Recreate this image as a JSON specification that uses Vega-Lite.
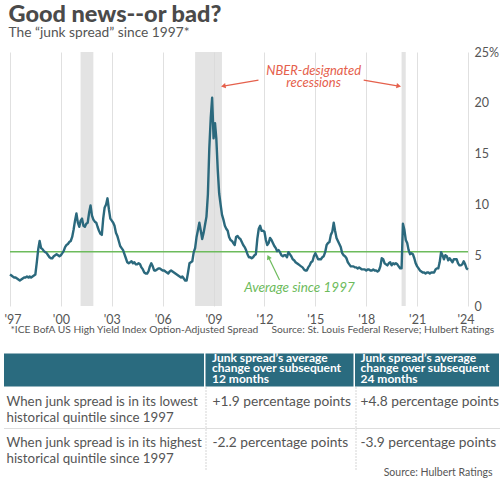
{
  "$schema": "https://vega.github.io/schema/vega-lite/v6.json",
  "background": "white",
  "padding": {"left": 3, "top": 2, "right": 3, "bottom": 3},
  "config": {
    "font": "Lato",
    "view": {"stroke": null},
    "axis": {"labelFont": "Lato", "titleFont": "Lato"}
  },
  "title": {
    "text": "Good news--or bad?",
    "subtitle": "The “junk spread” since 1997*",
    "anchor": "start",
    "dx": 5,
    "fontSize": 23.5,
    "fontWeight": 900,
    "color": "#4a4a4a",
    "subtitleFontSize": 13.75,
    "subtitleColor": "#555555",
    "subtitlePadding": 0,
    "offset": 6
  },
  "datasets": {
    "recessions": [
      {"start": "2001-03-01", "end": "2001-12-01"},
      {"start": "2007-12-01", "end": "2009-07-01"},
      {"start": "2020-02-01", "end": "2020-05-01"}
    ],
    "spread": [
      {"d": "1997-01", "v": 3.1}, {"d": "1997-02", "v": 3.0}, {"d": "1997-03", "v": 2.9}, {"d": "1997-04", "v": 2.8}, {"d": "1997-05", "v": 2.8}, {"d": "1997-06", "v": 2.7}, {"d": "1997-07", "v": 2.6}, {"d": "1997-08", "v": 2.5}, {"d": "1997-09", "v": 2.6}, {"d": "1997-10", "v": 2.7}, {"d": "1997-11", "v": 2.8}, {"d": "1997-12", "v": 2.8},
      {"d": "1998-01", "v": 2.9}, {"d": "1998-02", "v": 2.8}, {"d": "1998-03", "v": 2.9}, {"d": "1998-04", "v": 2.8}, {"d": "1998-05", "v": 2.9}, {"d": "1998-06", "v": 3.0}, {"d": "1998-07", "v": 3.1}, {"d": "1998-08", "v": 4.3}, {"d": "1998-09", "v": 5.6}, {"d": "1998-10", "v": 6.4}, {"d": "1998-11", "v": 5.7}, {"d": "1998-12", "v": 5.6},
      {"d": "1999-01", "v": 5.4}, {"d": "1999-02", "v": 5.3}, {"d": "1999-03", "v": 5.2}, {"d": "1999-04", "v": 5.0}, {"d": "1999-05", "v": 4.8}, {"d": "1999-06", "v": 4.7}, {"d": "1999-07", "v": 4.7}, {"d": "1999-08", "v": 4.9}, {"d": "1999-09", "v": 5.0}, {"d": "1999-10", "v": 5.1}, {"d": "1999-11", "v": 5.0}, {"d": "1999-12", "v": 4.9},
      {"d": "2000-01", "v": 5.0}, {"d": "2000-02", "v": 5.2}, {"d": "2000-03", "v": 5.4}, {"d": "2000-04", "v": 5.8}, {"d": "2000-05", "v": 6.0}, {"d": "2000-06", "v": 6.1}, {"d": "2000-07", "v": 6.3}, {"d": "2000-08", "v": 6.4}, {"d": "2000-09", "v": 6.8}, {"d": "2000-10", "v": 7.5}, {"d": "2000-11", "v": 8.4}, {"d": "2000-12", "v": 9.1},
      {"d": "2001-01", "v": 8.2}, {"d": "2001-02", "v": 7.8}, {"d": "2001-03", "v": 8.4}, {"d": "2001-04", "v": 8.6}, {"d": "2001-05", "v": 7.9}, {"d": "2001-06", "v": 7.8}, {"d": "2001-07", "v": 8.1}, {"d": "2001-08", "v": 8.2}, {"d": "2001-09", "v": 9.2}, {"d": "2001-10", "v": 9.9}, {"d": "2001-11", "v": 8.9}, {"d": "2001-12", "v": 8.5},
      {"d": "2002-01", "v": 8.3}, {"d": "2002-02", "v": 8.2}, {"d": "2002-03", "v": 7.8}, {"d": "2002-04", "v": 7.4}, {"d": "2002-05", "v": 7.1}, {"d": "2002-06", "v": 7.0}, {"d": "2002-07", "v": 8.6}, {"d": "2002-08", "v": 9.7}, {"d": "2002-09", "v": 10.0}, {"d": "2002-10", "v": 10.6}, {"d": "2002-11", "v": 9.5}, {"d": "2002-12", "v": 8.6},
      {"d": "2003-01", "v": 8.4}, {"d": "2003-02", "v": 8.2}, {"d": "2003-03", "v": 7.9}, {"d": "2003-04", "v": 7.2}, {"d": "2003-05", "v": 6.9}, {"d": "2003-06", "v": 6.4}, {"d": "2003-07", "v": 5.9}, {"d": "2003-08", "v": 5.7}, {"d": "2003-09", "v": 5.5}, {"d": "2003-10", "v": 5.1}, {"d": "2003-11", "v": 4.7}, {"d": "2003-12", "v": 4.3},
      {"d": "2004-01", "v": 4.2}, {"d": "2004-02", "v": 4.3}, {"d": "2004-03", "v": 4.4}, {"d": "2004-04", "v": 4.2}, {"d": "2004-05", "v": 4.3}, {"d": "2004-06", "v": 4.1}, {"d": "2004-07", "v": 4.1}, {"d": "2004-08", "v": 4.2}, {"d": "2004-09", "v": 4.1}, {"d": "2004-10", "v": 3.8}, {"d": "2004-11", "v": 3.6}, {"d": "2004-12", "v": 3.3},
      {"d": "2005-01", "v": 3.2}, {"d": "2005-02", "v": 3.2}, {"d": "2005-03", "v": 3.4}, {"d": "2005-04", "v": 3.9}, {"d": "2005-05", "v": 4.2}, {"d": "2005-06", "v": 3.9}, {"d": "2005-07", "v": 3.5}, {"d": "2005-08", "v": 3.5}, {"d": "2005-09", "v": 3.6}, {"d": "2005-10", "v": 3.7}, {"d": "2005-11", "v": 3.7}, {"d": "2005-12", "v": 3.6},
      {"d": "2006-01", "v": 3.5}, {"d": "2006-02", "v": 3.5}, {"d": "2006-03", "v": 3.4}, {"d": "2006-04", "v": 3.3}, {"d": "2006-05", "v": 3.2}, {"d": "2006-06", "v": 3.4}, {"d": "2006-07", "v": 3.5}, {"d": "2006-08", "v": 3.4}, {"d": "2006-09", "v": 3.3}, {"d": "2006-10", "v": 3.2}, {"d": "2006-11", "v": 3.1}, {"d": "2006-12", "v": 3.0},
      {"d": "2007-01", "v": 2.9}, {"d": "2007-02", "v": 2.8}, {"d": "2007-03", "v": 2.9}, {"d": "2007-04", "v": 2.7}, {"d": "2007-05", "v": 2.5}, {"d": "2007-06", "v": 2.5}, {"d": "2007-07", "v": 3.3}, {"d": "2007-08", "v": 4.2}, {"d": "2007-09", "v": 4.3}, {"d": "2007-10", "v": 4.4}, {"d": "2007-11", "v": 5.3}, {"d": "2007-12", "v": 5.7},
      {"d": "2008-01", "v": 6.8}, {"d": "2008-02", "v": 7.5}, {"d": "2008-03", "v": 8.2}, {"d": "2008-04", "v": 7.4}, {"d": "2008-05", "v": 6.6}, {"d": "2008-06", "v": 7.2}, {"d": "2008-07", "v": 8.0}, {"d": "2008-08", "v": 8.8}, {"d": "2008-09", "v": 11.0}, {"d": "2008-10", "v": 15.5}, {"d": "2008-11", "v": 18.5}, {"d": "2008-12", "v": 20.5},
      {"d": "2009-01", "v": 16.5}, {"d": "2009-02", "v": 18.0}, {"d": "2009-03", "v": 16.5}, {"d": "2009-04", "v": 13.4}, {"d": "2009-05", "v": 11.1}, {"d": "2009-06", "v": 10.0}, {"d": "2009-07", "v": 9.0}, {"d": "2009-08", "v": 8.5}, {"d": "2009-09", "v": 7.9}, {"d": "2009-10", "v": 7.6}, {"d": "2009-11", "v": 7.4}, {"d": "2009-12", "v": 6.8},
      {"d": "2010-01", "v": 6.5}, {"d": "2010-02", "v": 6.4}, {"d": "2010-03", "v": 6.2}, {"d": "2010-04", "v": 6.0}, {"d": "2010-05", "v": 6.8}, {"d": "2010-06", "v": 6.9}, {"d": "2010-07", "v": 6.7}, {"d": "2010-08", "v": 6.6}, {"d": "2010-09", "v": 6.3}, {"d": "2010-10", "v": 6.0}, {"d": "2010-11", "v": 5.8}, {"d": "2010-12", "v": 5.5},
      {"d": "2011-01", "v": 5.1}, {"d": "2011-02", "v": 4.8}, {"d": "2011-03", "v": 4.8}, {"d": "2011-04", "v": 4.7}, {"d": "2011-05", "v": 4.8}, {"d": "2011-06", "v": 5.0}, {"d": "2011-07", "v": 5.1}, {"d": "2011-08", "v": 6.6}, {"d": "2011-09", "v": 7.6}, {"d": "2011-10", "v": 7.9}, {"d": "2011-11", "v": 7.4}, {"d": "2011-12", "v": 7.4},
      {"d": "2012-01", "v": 7.3}, {"d": "2012-02", "v": 6.5}, {"d": "2012-03", "v": 6.0}, {"d": "2012-04", "v": 6.2}, {"d": "2012-05", "v": 6.7}, {"d": "2012-06", "v": 6.5}, {"d": "2012-07", "v": 6.2}, {"d": "2012-08", "v": 5.9}, {"d": "2012-09", "v": 5.7}, {"d": "2012-10", "v": 5.4}, {"d": "2012-11", "v": 5.5}, {"d": "2012-12", "v": 5.3},
      {"d": "2013-01", "v": 5.0}, {"d": "2013-02", "v": 4.9}, {"d": "2013-03", "v": 5.0}, {"d": "2013-04", "v": 5.0}, {"d": "2013-05", "v": 4.8}, {"d": "2013-06", "v": 5.3}, {"d": "2013-07", "v": 5.1}, {"d": "2013-08", "v": 4.9}, {"d": "2013-09", "v": 4.6}, {"d": "2013-10", "v": 4.5}, {"d": "2013-11", "v": 4.3}, {"d": "2013-12", "v": 4.2},
      {"d": "2014-01", "v": 4.1}, {"d": "2014-02", "v": 4.0}, {"d": "2014-03", "v": 3.9}, {"d": "2014-04", "v": 3.8}, {"d": "2014-05", "v": 3.6}, {"d": "2014-06", "v": 3.5}, {"d": "2014-07", "v": 3.5}, {"d": "2014-08", "v": 3.8}, {"d": "2014-09", "v": 4.0}, {"d": "2014-10", "v": 4.3}, {"d": "2014-11", "v": 4.4}, {"d": "2014-12", "v": 4.9},
      {"d": "2015-01", "v": 5.2}, {"d": "2015-02", "v": 4.9}, {"d": "2015-03", "v": 4.6}, {"d": "2015-04", "v": 4.6}, {"d": "2015-05", "v": 4.6}, {"d": "2015-06", "v": 4.8}, {"d": "2015-07", "v": 4.9}, {"d": "2015-08", "v": 5.3}, {"d": "2015-09", "v": 6.0}, {"d": "2015-10", "v": 6.2}, {"d": "2015-11", "v": 6.3}, {"d": "2015-12", "v": 7.0},
      {"d": "2016-01", "v": 7.3}, {"d": "2016-02", "v": 8.2}, {"d": "2016-03", "v": 7.4}, {"d": "2016-04", "v": 6.7}, {"d": "2016-05", "v": 6.4}, {"d": "2016-06", "v": 6.1}, {"d": "2016-07", "v": 5.8}, {"d": "2016-08", "v": 5.2}, {"d": "2016-09", "v": 5.0}, {"d": "2016-10", "v": 4.9}, {"d": "2016-11", "v": 4.7}, {"d": "2016-12", "v": 4.3},
      {"d": "2017-01", "v": 4.1}, {"d": "2017-02", "v": 3.9}, {"d": "2017-03", "v": 3.9}, {"d": "2017-04", "v": 3.9}, {"d": "2017-05", "v": 3.8}, {"d": "2017-06", "v": 3.8}, {"d": "2017-07", "v": 3.7}, {"d": "2017-08", "v": 3.8}, {"d": "2017-09", "v": 3.7}, {"d": "2017-10", "v": 3.6}, {"d": "2017-11", "v": 3.6}, {"d": "2017-12", "v": 3.6},
      {"d": "2018-01", "v": 3.5}, {"d": "2018-02", "v": 3.6}, {"d": "2018-03", "v": 3.6}, {"d": "2018-04", "v": 3.5}, {"d": "2018-05", "v": 3.5}, {"d": "2018-06", "v": 3.6}, {"d": "2018-07", "v": 3.5}, {"d": "2018-08", "v": 3.5}, {"d": "2018-09", "v": 3.4}, {"d": "2018-10", "v": 3.5}, {"d": "2018-11", "v": 3.9}, {"d": "2018-12", "v": 4.7},
      {"d": "2019-01", "v": 4.6}, {"d": "2019-02", "v": 4.2}, {"d": "2019-03", "v": 4.1}, {"d": "2019-04", "v": 4.0}, {"d": "2019-05", "v": 4.2}, {"d": "2019-06", "v": 4.3}, {"d": "2019-07", "v": 4.0}, {"d": "2019-08", "v": 4.2}, {"d": "2019-09", "v": 4.1}, {"d": "2019-10", "v": 4.2}, {"d": "2019-11", "v": 4.1}, {"d": "2019-12", "v": 3.9},
      {"d": "2020-01", "v": 3.7}, {"d": "2020-02", "v": 3.7}, {"d": "2020-03", "v": 8.1}, {"d": "2020-04", "v": 7.5}, {"d": "2020-05", "v": 6.5}, {"d": "2020-06", "v": 6.2}, {"d": "2020-07", "v": 5.5}, {"d": "2020-08", "v": 5.1}, {"d": "2020-09", "v": 5.2}, {"d": "2020-10", "v": 5.1}, {"d": "2020-11", "v": 4.7}, {"d": "2020-12", "v": 4.2},
      {"d": "2021-01", "v": 3.9}, {"d": "2021-02", "v": 3.7}, {"d": "2021-03", "v": 3.5}, {"d": "2021-04", "v": 3.4}, {"d": "2021-05", "v": 3.3}, {"d": "2021-06", "v": 3.3}, {"d": "2021-07", "v": 3.2}, {"d": "2021-08", "v": 3.3}, {"d": "2021-09", "v": 3.3}, {"d": "2021-10", "v": 3.2}, {"d": "2021-11", "v": 3.3}, {"d": "2021-12", "v": 3.3},
      {"d": "2022-01", "v": 3.3}, {"d": "2022-02", "v": 3.6}, {"d": "2022-03", "v": 3.7}, {"d": "2022-04", "v": 3.7}, {"d": "2022-05", "v": 4.3}, {"d": "2022-06", "v": 5.3}, {"d": "2022-07", "v": 5.0}, {"d": "2022-08", "v": 4.6}, {"d": "2022-09", "v": 5.0}, {"d": "2022-10", "v": 4.9}, {"d": "2022-11", "v": 4.5}, {"d": "2022-12", "v": 4.7},
      {"d": "2023-01", "v": 4.5}, {"d": "2023-02", "v": 4.3}, {"d": "2023-03", "v": 4.6}, {"d": "2023-04", "v": 4.6}, {"d": "2023-05", "v": 4.6}, {"d": "2023-06", "v": 4.2}, {"d": "2023-07", "v": 4.0}, {"d": "2023-08", "v": 4.0}, {"d": "2023-09", "v": 4.1}, {"d": "2023-10", "v": 4.4}, {"d": "2023-11", "v": 4.1}, {"d": "2023-12", "v": 3.7},
      {"d": "2024-01", "v": 3.6}
    ],
    "table": [
      {"row": "head", "col": "label", "text": ""},
      {"row": "head", "col": "m12", "text": "Junk spread’s average\nchange over subsequent\n12 months"},
      {"row": "head", "col": "m24", "text": "Junk spread’s average\nchange over subsequent\n24 months"},
      {"row": "low", "col": "label", "text": "When junk spread is in its lowest\nhistorical quintile since 1997"},
      {"row": "low", "col": "m12", "text": "+1.9 percentage points"},
      {"row": "low", "col": "m24", "text": "+4.8 percentage points"},
      {"row": "high", "col": "label", "text": "When junk spread is in its highest\nhistorical quintile since 1997"},
      {"row": "high", "col": "m12", "text": "-2.2 percentage points"},
      {"row": "high", "col": "m24", "text": "-3.9 percentage points"}
    ]
  },
  "spacing": 16.5,
  "vconcat": [
    {
      "spacing": 0,
      "bounds": "flush",
      "hconcat": [
        {
          "width": 6,
          "height": 254,
          "data": {"values": []},
          "mark": {"type": "rect"},
          "encoding": {}
        },
        {
          "width": 458,
          "height": 254,
          "layer": [
            {
              "data": {"name": "recessions"},
              "mark": {"type": "rect", "color": "#d9d9d9", "opacity": 0.75},
              "encoding": {
                "x": {"field": "start", "type": "temporal"},
                "x2": {"field": "end"}
              }
            },
            {
              "data": {"values": [{}]},
              "mark": {"type": "rule", "color": "#6dbb5c", "strokeWidth": 1.5},
              "encoding": {"y": {"datum": 5.35, "type": "quantitative"}}
            },
            {
              "data": {"name": "spread"},
              "mark": {"type": "line", "color": "#2b697d", "strokeWidth": 2.4, "strokeJoin": "round"},
              "encoding": {
                "x": {
                  "field": "d",
                  "type": "temporal",
                  "scale": {"type": "utc", "domain": [{"year": 1997, "utc": true}, {"year": 2024, "utc": true}]},
                  "axis": {
                    "values": [
                      {"year": 1997, "utc": true}, {"year": 2000, "utc": true}, {"year": 2003, "utc": true},
                      {"year": 2006, "utc": true}, {"year": 2009, "utc": true}, {"year": 2012, "utc": true},
                      {"year": 2015, "utc": true}, {"year": 2018, "utc": true}, {"year": 2021, "utc": true},
                      {"year": 2024, "utc": true}
                    ],
                    "format": "'%y",
                    "labelFlush": true,
                    "labelFlushOffset": 6,
                    "ticks": false,
                    "domain": false,
                    "gridColor": "#e0e0e0",
                    "labelFontSize": 12.5,
                    "labelColor": "#555555",
                    "labelPadding": 7,
                    "title": "*ICE BofA US High Yield Index Option-Adjusted Spread\u00a0\u00a0\u00a0\u00a0\u00a0Source: St. Louis Federal Reserve; Hulbert Ratings",
                    "titleAnchor": "start",
                    "titleFontSize": 10.25,
                    "titleFontWeight": "normal",
                    "titleColor": "#555555",
                    "titlePadding": -1.5
                  }
                },
                "y": {
                  "field": "v",
                  "type": "quantitative",
                  "scale": {"domain": [0, 25], "nice": false},
                  "axis": {
                    "orient": "right",
                    "values": [0, 5, 10, 15, 20, 25],
                    "labelExpr": "datum.value == 25 ? '25%' : datum.label",
                    "title": null,
                    "ticks": false,
                    "domain": false,
                    "gridColor": "#e0e0e0",
                    "labelFontSize": 12.5,
                    "labelColor": "#555555",
                    "labelPadding": 6,
                    "labelAlign": "left"
                  }
                }
              }
            },
            {
              "data": {"values": [{}]},
              "mark": {"type": "text", "fontStyle": "italic", "fontSize": 13, "color": "#e5604c", "lineHeight": 12, "baseline": "middle"},
              "encoding": {
                "x": {"datum": {"year": 2014, "month": 11, "date": 25, "utc": true}, "type": "temporal"},
                "y": {"datum": 23.15, "type": "quantitative"},
                "text": {"value": ["NBER-designated", "recessions"]}
              }
            },
            {
              "data": {"values": [{}]},
              "mark": {"type": "rule", "color": "#e5604c", "strokeWidth": 1.2},
              "encoding": {
                "x": {"datum": {"year": 2011, "month": 8, "date": 26, "utc": true}, "type": "temporal"},
                "x2": {"datum": {"year": 2009, "month": 7, "date": 30, "utc": true}},
                "y": {"datum": 22.24, "type": "quantitative"},
                "y2": {"datum": 21.65}
              }
            },
            {
              "data": {"values": [{}]},
              "mark": {"type": "point", "shape": "triangle-left", "angle": 350, "filled": true, "opacity": 1, "size": 28, "color": "#e5604c"},
              "encoding": {
                "x": {"datum": {"year": 2009, "month": 7, "date": 30, "utc": true}, "type": "temporal"},
                "y": {"datum": 21.65, "type": "quantitative"}
              }
            },
            {
              "data": {"values": [{}]},
              "mark": {"type": "rule", "color": "#e5604c", "strokeWidth": 1.2},
              "encoding": {
                "x": {"datum": {"year": 2017, "month": 11, "date": 7, "utc": true}, "type": "temporal"},
                "x2": {"datum": {"year": 2019, "month": 12, "date": 2, "utc": true}},
                "y": {"datum": 22.24, "type": "quantitative"},
                "y2": {"datum": 21.65}
              }
            },
            {
              "data": {"values": [{}]},
              "mark": {"type": "point", "shape": "triangle-right", "angle": 10, "filled": true, "opacity": 1, "size": 28, "color": "#e5604c"},
              "encoding": {
                "x": {"datum": {"year": 2019, "month": 12, "date": 2, "utc": true}, "type": "temporal"},
                "y": {"datum": 21.65, "type": "quantitative"}
              }
            },
            {
              "data": {"values": [{}]},
              "mark": {"type": "text", "fontStyle": "italic", "fontSize": 13.5, "color": "#6dbb5c", "baseline": "middle"},
              "encoding": {
                "x": {"datum": {"year": 2014, "month": 1, "date": 26, "utc": true}, "type": "temporal"},
                "y": {"datum": 1.75, "type": "quantitative"},
                "text": {"value": "Average since 1997"}
              }
            },
            {
              "data": {"values": [{}]},
              "mark": {"type": "rule", "color": "#6dbb5c", "strokeWidth": 1.2},
              "encoding": {
                "x": {"datum": {"year": 2012, "month": 11, "date": 21, "utc": true}, "type": "temporal"},
                "x2": {"datum": {"year": 2012, "month": 3, "date": 27, "utc": true}},
                "y": {"datum": 2.56, "type": "quantitative"},
                "y2": {"datum": 4.82}
              }
            },
            {
              "data": {"values": [{}]},
              "mark": {"type": "point", "shape": "triangle-up", "angle": 335, "filled": true, "opacity": 1, "size": 28, "color": "#6dbb5c"},
              "encoding": {
                "x": {"datum": {"year": 2012, "month": 3, "date": 27, "utc": true}, "type": "temporal"},
                "y": {"datum": 4.82, "type": "quantitative"}
              }
            }
          ]
        }
      ]
    },
    {
      "spacing": 0,
      "resolve": {"scale": {"x": "independent", "y": "independent"}},
      "vconcat": [
        {
          "spacing": 1.5,
          "bounds": "flush",
          "resolve": {"scale": {"x": "independent", "y": "independent"}},
          "hconcat": [
            {
              "width": 200,
              "height": 33,
              "view": {"fill": "#2a6b7f", "stroke": null},
              "data": {"name": "table"},
              "transform": [{"filter": "datum.row == 'head' && datum.col == 'label'"}],
              "mark": {"type": "text", "align": "left", "baseline": "top", "dx": 6.5, "dy": -1, "fontSize": 12, "fontWeight": "bold", "color": "white", "lineBreak": "\n", "lineHeight": 10.5},
              "encoding": {
                "x": {"field": "col", "type": "nominal", "scale": {"type": "band", "paddingInner": 0, "paddingOuter": 0}, "bandPosition": 0, "axis": null},
                "y": {"field": "row", "type": "nominal", "scale": {"type": "band", "paddingInner": 0, "paddingOuter": 0}, "bandPosition": 0, "axis": null},
                "text": {"field": "text"}
              }
            },
            {
              "width": 148,
              "height": 33,
              "view": {"fill": "#2a6b7f", "stroke": null},
              "data": {"name": "table"},
              "transform": [{"filter": "datum.row == 'head' && datum.col == 'm12'"}],
              "mark": {"type": "text", "align": "left", "baseline": "top", "dx": 6.5, "dy": -1, "fontSize": 12, "fontWeight": "bold", "color": "white", "lineBreak": "\n", "lineHeight": 10.5},
              "encoding": {
                "x": {"field": "col", "type": "nominal", "scale": {"type": "band", "paddingInner": 0, "paddingOuter": 0}, "bandPosition": 0, "axis": null},
                "y": {"field": "row", "type": "nominal", "scale": {"type": "band", "paddingInner": 0, "paddingOuter": 0}, "bandPosition": 0, "axis": null},
                "text": {"field": "text"}
              }
            },
            {
              "width": 144,
              "height": 33,
              "view": {"fill": "#2a6b7f", "stroke": null},
              "data": {"name": "table"},
              "transform": [{"filter": "datum.row == 'head' && datum.col == 'm24'"}],
              "mark": {"type": "text", "align": "left", "baseline": "top", "dx": 5.5, "dy": -1, "fontSize": 12, "fontWeight": "bold", "color": "white", "lineBreak": "\n", "lineHeight": 10.5},
              "encoding": {
                "x": {"field": "col", "type": "nominal", "scale": {"type": "band", "paddingInner": 0, "paddingOuter": 0}, "bandPosition": 0, "axis": null},
                "y": {"field": "row", "type": "nominal", "scale": {"type": "band", "paddingInner": 0, "paddingOuter": 0}, "bandPosition": 0, "axis": null},
                "text": {"field": "text"}
              }
            }
          ]
        },
        {
          "spacing": 0,
          "bounds": "flush",
          "resolve": {"scale": {"x": "independent", "y": "independent"}},
          "title": {"text": "Source: Hulbert Ratings", "orient": "bottom", "anchor": "end", "fontSize": 10.5, "fontWeight": "normal", "color": "#555555", "offset": -2, "dx": -8},
          "hconcat": [
            {
              "width": 201.5,
              "height": 82,
              "data": {"name": "table"},
              "transform": [{"filter": "datum.row != 'head' && datum.col == 'label'"}],
              "layer": [
                {
                  "mark": {"type": "text", "align": "left", "baseline": "top", "dx": 2.5, "dy": 7.5, "fontSize": 13.3, "color": "#555555", "lineBreak": "\n", "lineHeight": 16},
                  "encoding": {
                    "x": {"field": "col", "type": "nominal", "scale": {"type": "band", "paddingInner": 0, "paddingOuter": 0}, "bandPosition": 0, "axis": null},
                    "y": {"field": "row", "type": "nominal", "scale": {"type": "band", "domain": ["low", "high"], "paddingInner": 0, "paddingOuter": 0}, "bandPosition": 0, "axis": null},
                    "text": {"field": "text"}
                  }
                },
                {
                  "transform": [{"filter": "datum.row == 'high'"}],
                  "mark": {"type": "rule", "color": "#dddddd", "strokeWidth": 1},
                  "encoding": {
                    "y": {"field": "row", "type": "nominal", "bandPosition": 0}
                  }
                }
              ]
            },
            {
              "width": 149.5,
              "height": 82,
              "data": {"name": "table"},
              "transform": [{"filter": "datum.row != 'head' && datum.col == 'm12'"}],
              "layer": [
                {
                  "mark": {"type": "text", "align": "left", "baseline": "top", "dx": 6.5, "dy": 7.5, "fontSize": 13.75, "color": "#555555"},
                  "encoding": {
                    "x": {"field": "col", "type": "nominal", "scale": {"type": "band", "paddingInner": 0, "paddingOuter": 0}, "bandPosition": 0, "axis": null},
                    "y": {"field": "row", "type": "nominal", "scale": {"type": "band", "domain": ["low", "high"], "paddingInner": 0, "paddingOuter": 0}, "bandPosition": 0, "axis": null},
                    "text": {"field": "text"}
                  }
                },
                {
                  "transform": [{"filter": "datum.row == 'high'"}],
                  "mark": {"type": "rule", "color": "#dddddd", "strokeWidth": 1},
                  "encoding": {
                    "y": {"field": "row", "type": "nominal", "bandPosition": 0}
                  }
                },
                {
                  "transform": [{"filter": "datum.row == 'low'"}],
                  "mark": {"type": "rule", "color": "#aaaaaa", "strokeWidth": 1, "strokeDash": [1, 2]},
                  "encoding": {
                    "x": {"field": "col", "type": "nominal", "bandPosition": 0}
                  }
                }
              ]
            },
            {
              "width": 144,
              "height": 82,
              "data": {"name": "table"},
              "transform": [{"filter": "datum.row != 'head' && datum.col == 'm24'"}],
              "layer": [
                {
                  "mark": {"type": "text", "align": "left", "baseline": "top", "dx": 4.5, "dy": 7.5, "fontSize": 13.75, "color": "#555555"},
                  "encoding": {
                    "x": {"field": "col", "type": "nominal", "scale": {"type": "band", "paddingInner": 0, "paddingOuter": 0}, "bandPosition": 0, "axis": null},
                    "y": {"field": "row", "type": "nominal", "scale": {"type": "band", "domain": ["low", "high"], "paddingInner": 0, "paddingOuter": 0}, "bandPosition": 0, "axis": null},
                    "text": {"field": "text"}
                  }
                },
                {
                  "transform": [{"filter": "datum.row == 'high'"}],
                  "mark": {"type": "rule", "color": "#dddddd", "strokeWidth": 1},
                  "encoding": {
                    "y": {"field": "row", "type": "nominal", "bandPosition": 0}
                  }
                },
                {
                  "transform": [{"filter": "datum.row == 'low'"}],
                  "mark": {"type": "rule", "color": "#aaaaaa", "strokeWidth": 1, "strokeDash": [1, 2]},
                  "encoding": {
                    "x": {"field": "col", "type": "nominal", "bandPosition": 0}
                  }
                }
              ]
            }
          ]
        }
      ]
    }
  ]
}
